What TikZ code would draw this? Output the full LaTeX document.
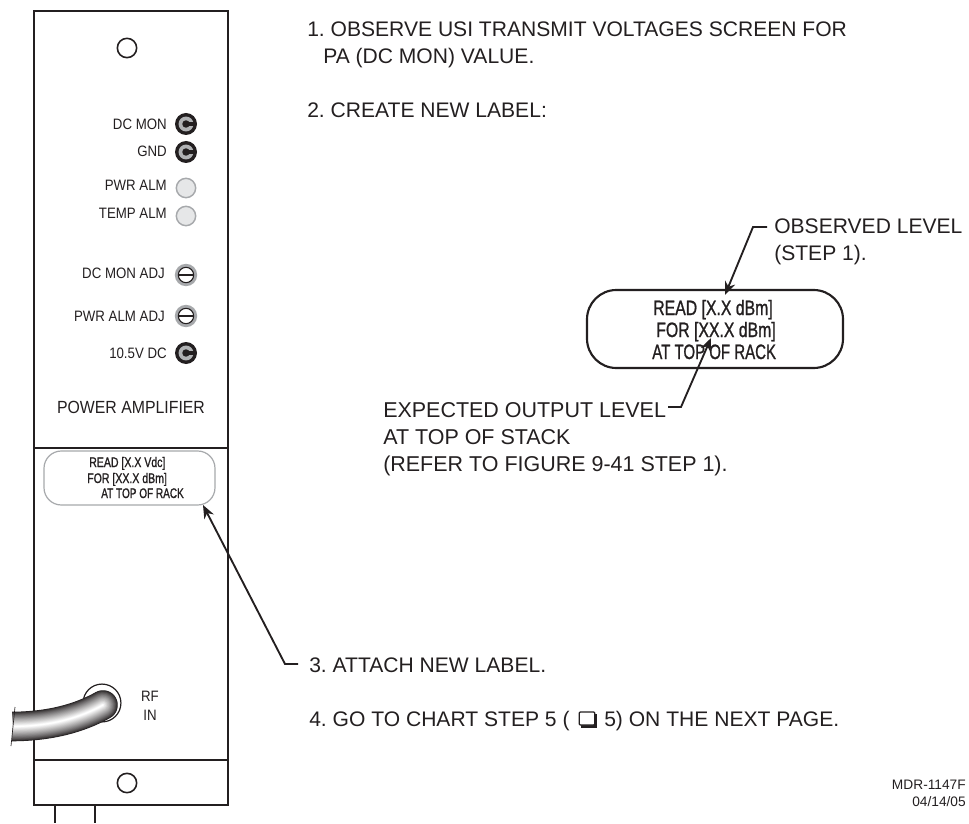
\documentclass[tikz,border=0pt]{standalone}
\usepackage{fontspec}
\usepackage{graphicx}
\setmainfont{Liberation Sans}
\newfontfamily\condfont[FakeStretch=0.76,FakeBold=1]{Liberation Sans}
\newfontfamily\narrowfont[FakeStretch=0.88]{Liberation Sans}
\newfontfamily\titlefont[FakeStretch=0.9]{Liberation Sans}
\usetikzlibrary{arrows.meta}
\definecolor{ink}{HTML}{231F20}
\definecolor{ledgray}{HTML}{E6E7E8}
\definecolor{rimgray}{HTML}{A7A9AC}
\definecolor{jackgray}{HTML}{B0B2B4}
\tikzset{
  px/.style={x=0.75pt,y=-0.75pt},
  main/.style={inner sep=0pt,text=ink,font=\fontsize{15.8pt}{18pt}\selectfont,anchor=base west},
  mainb/.style={main,font=\fontsize{16.1pt}{18pt}\selectfont},
  small/.style={inner sep=0pt,text=ink,font=\narrowfont\fontsize{11.3pt}{12pt}\selectfont,anchor=base east},
  tiny/.style={inner sep=0pt,text=ink,font=\fontsize{10.3pt}{12pt}\selectfont,anchor=base east},
  wall/.style={draw=ink,line width=1.9pt},
  lead/.style={draw=ink,line width=1.4pt,-{Stealth[length=10pt,width=8pt]}},
  hole/.style={circle,draw=ink,line width=1.2pt,fill=white,minimum size=14.5pt,inner sep=0pt},
  led/.style={circle,draw=rimgray,line width=1.1pt,fill=ledgray,minimum size=14.5pt,inner sep=0pt},
  screw/.style={circle,draw=ink,line width=.8pt,fill=white,minimum size=11.5pt,inner sep=0pt},
  jackbody/.style={circle,fill=ink,minimum size=16.5pt,inner sep=0pt},
}
\newcommand{\jackat}[2]{%
  \node[jackbody] (#1) at #2 {};
  \fill[jackgray] (#1.center) circle (5.6pt);
  \fill[ink] (#1.center) circle (2.8pt);
  \fill[ink] (#1.center) ++(0pt,-1.5pt) rectangle ++(6.5pt,3pt);
}
\newcommand{\screwat}[2]{%
  \fill[rimgray] #2 circle (8.4pt);
  \node[screw] (#1) at #2 {};
  \draw[ink,line width=.8pt] (#1.west) -- (#1.east);
}
\begin{document}
\frenchspacing
\begin{tikzpicture}[px]
\useasboundingbox (0,0) rectangle (969,823);
% panel
\draw[wall] (55,805) -- (55,823) (95,805) -- (95,823);
\draw[wall,fill=white] (34,11) rectangle (228,805);
\draw[wall] (34,448) -- (228,448) (34,760) -- (228,760);
\node[hole] (holetop) at (127,48) {};
\node[hole] (holebot) at (127,783) {};
% jacks, LEDs, screws
\jackat{jmon}{(186,124)}
\jackat{jgnd}{(186,152)}
\node[led] (lpwr) at (186,188) {};
\node[led] (ltemp) at (186,216) {};
\screwat{smon}{(186,275)}
\screwat{spwr}{(186,316)}
\jackat{jdc}{(186,353)}
\node[small] (tmon) at (167,129.5) {DC MON};
\node[small] (tgnd) at (167,157) {GND};
\node[small] (tpwr) at (167,191) {PWR ALM};
\node[small] (ttemp) at (167,219) {TEMP ALM};
\node[small] (tmadj) at (165,278) {DC MON ADJ};
\node[small] (tpadj) at (165,321) {PWR ALM ADJ};
\node[small] (tdc) at (167,358) {10.5V DC};
\node[inner sep=0pt,text=ink,font=\titlefont\fontsize{13.2pt}{14pt}\selectfont,anchor=base] (tpa) at (131,413) {POWER AMPLIFIER};
% small label
\draw[rimgray,line width=.9pt,rounded corners=13pt,fill=white] (44,451) rectangle (215,505);
\coordinate (lblsmall) at (203,505);
\begin{scope}[every node/.style={inner sep=0pt,text=ink,anchor=base west,font=\condfont\fontsize{10.4pt}{12pt}\selectfont}]
\node (s1) at (89,467) {READ [X.X Vdc]};
\node (s2) at (87,483) {FOR [XX.X dBm]};
\node (s3) at (101,498) {\scalebox{.95}[1]{AT TOP OF RACK}};
\end{scope}
% cable
\draw[ink,line width=.9pt,fill=white] (102,703) circle (14.2pt);
\begin{scope}
\clip (12,660) -- (12,760) -- (140,760) -- (140,660) -- cycle;
\foreach \i in {0,...,24}{
  \pgfmathsetmacro{\w}{22.2*(1-\i/25)}
  \pgfmathsetmacro{\m}{min(100,pow(\i/24,0.8)*100)}
  \colorlet{tubec}{white!\m!ink}
  \draw[tubec,line width=\w pt,line cap=round]
    (-10,726.5) -- (11,726.5) .. controls (50,726.5) and (80,718) .. (103,705);
}
\end{scope}
\draw[ink,line width=.5pt] (15,707) -- (11,746);
% big label
\draw[ink,line width=1.6pt,rounded corners=22pt,fill=white] (587,290) rectangle (843,368);
\begin{scope}[every node/.style={inner sep=0pt,text=ink,anchor=base west,font=\condfont\fontsize{15.6pt}{18pt}\selectfont}]
\node (b1) at (653,315) {READ [X.X dBm]};
\node (b2) at (656,337) {FOR [XX.X dBm]};
\node (b3) at (652,359) {\scalebox{.95}[1]{AT TOP OF RACK}};
\end{scope}
% texts
\node[main] (t1) at (307,37) {1. OBSERVE USI TRANSMIT VOLTAGES SCREEN FOR};
\node[main] (t1b) at (323,64) {PA (DC MON) VALUE.};
\node[main] (t2) at (307,118) {2. CREATE NEW LABEL:};
\node[main] (tobs) at (774,234) {OBSERVED LEVEL};
\node[main] (tobs2) at (774,261) {(STEP 1).};
\node[mainb] (texp) at (383,417) {EXPECTED OUTPUT LEVEL};
\node[mainb] (texp2) at (383,444) {AT TOP OF STACK};
\node[mainb] (texp3) at (383,471) {(REFER TO FIGURE 9-41 STEP 1).};
\node[main] (t3) at (309,672) {3. ATTACH NEW LABEL.};
\node[main] (t4) at (309,726) {4. GO TO CHART STEP 5 (};
\fill[ink] (581,714) rectangle (597,728);
\node[draw=ink,line width=.9pt,fill=white,minimum width=11.6pt,minimum height=9.8pt,inner sep=0pt,rounded corners=.8pt] (chk) at (587,718.5) {};
\node[main] (t4b) at (604,726) {5) ON THE NEXT PAGE.};
\node[tiny] (mdr) at (966,789) {MDR-1147F};
\node[tiny] (date) at (966,806) {04/14/05};
\node[inner sep=0pt,text=ink,font=\narrowfont\fontsize{11.3pt}{12pt}\selectfont,anchor=base] (rf) at (150,701) {RF};
\node[inner sep=0pt,text=ink,font=\narrowfont\fontsize{11.3pt}{12pt}\selectfont,anchor=base] (in) at (150,720) {IN};
% leaders
\coordinate (c1) at (753,227);
\coordinate (c1s) at (767,227);
\coordinate (c1t) at (725,295);
\coordinate (c2) at (681,407);
\coordinate (c2s) at (668,407);
\coordinate (c2t) at (711,338);
\coordinate (c3) at (285,664);
\coordinate (c3s) at (298,664);
\draw[lead] (c1s) -- (c1) -- (c1t);
\draw[lead] (c2s) -- (c2) -- (c2t);
\draw[lead] (c3s) -- (c3) -- (lblsmall);
\end{tikzpicture}
\end{document}
